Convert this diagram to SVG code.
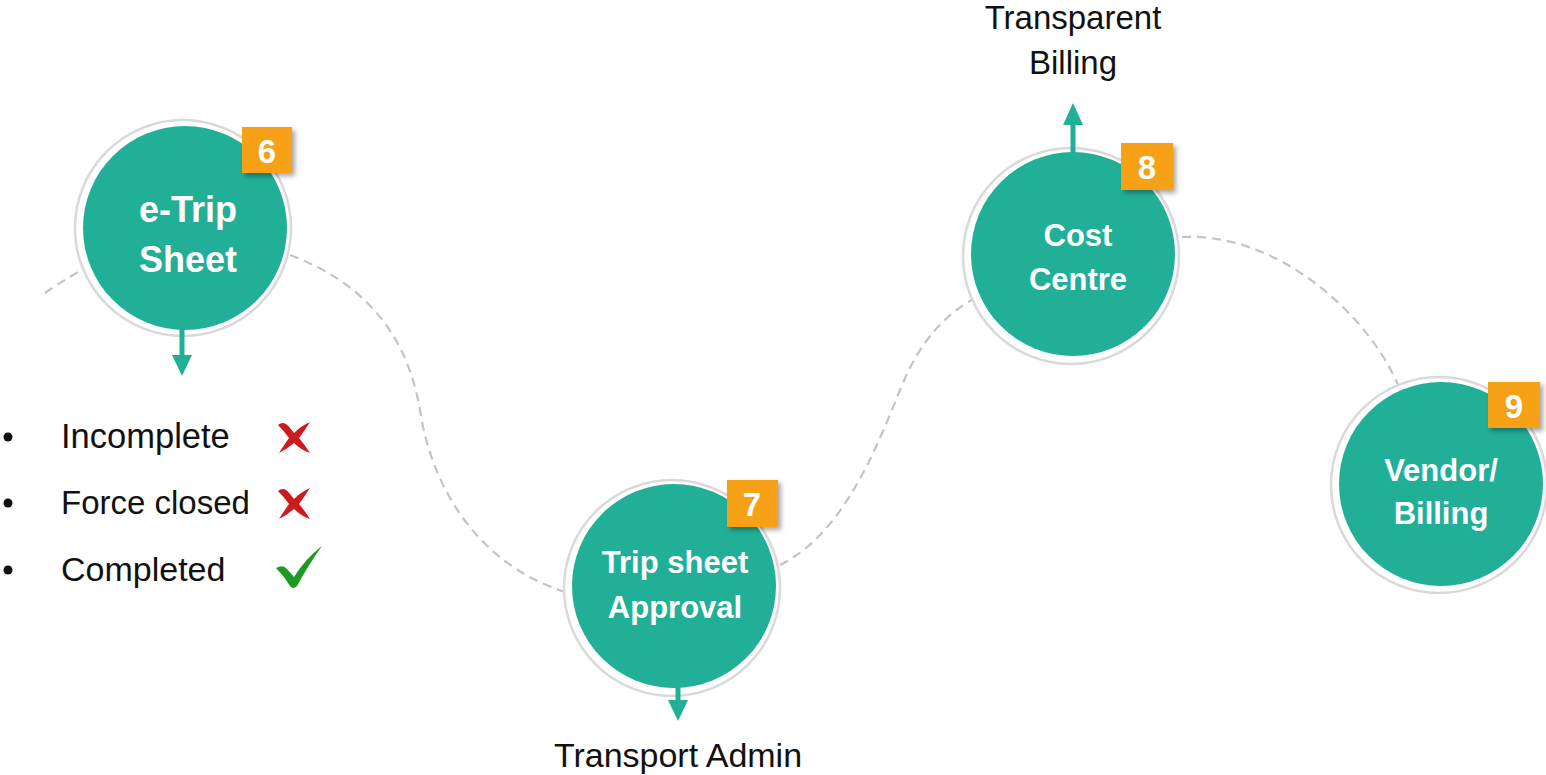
<svg xmlns="http://www.w3.org/2000/svg" width="1546" height="775" viewBox="0 0 1546 775">
<defs>
<style>
.dash{fill:none;stroke:#c4c4c4;stroke-width:2.2;stroke-dasharray:9 6}
.ring{fill:#fff;stroke:#d9d9d9;stroke-width:2.5}
.core{fill:#22af97}
.badge{fill:#f7a118}
.ct{font-family:"Liberation Sans",Arial,sans-serif;font-weight:bold;font-size:31px;fill:#fff;text-anchor:middle}
.bt{font-family:"Liberation Sans",Arial,sans-serif;font-weight:bold;font-size:33px;fill:#fff;text-anchor:middle}
.lt{font-family:"Liberation Sans",Arial,sans-serif;font-size:33px;fill:#111}
.arr{stroke:#22af97;stroke-width:5;fill:none}
.ah{fill:#22af97}
</style>
<filter id="sh" x="-20%" y="-20%" width="150%" height="150%">
<feDropShadow dx="3" dy="3" stdDeviation="2.5" flood-color="#000" flood-opacity="0.35"/>
</filter>
</defs>
<rect width="1546" height="775" fill="#fff"/>
<g id="paths">
<path class="dash" d="M45,293 Q62,281 82,270"/>
<path class="dash" d="M290,255 C370,285 408,340 420,410 C432,490 480,565 565,592"/>
<path class="dash" d="M780,565 C840,535 872,460 900,390 C920,340 945,315 975,298"/>
<path class="dash" d="M1182,237 C1280,232 1370,318 1398,385"/>
</g>
<g id="node6">
<circle class="ring" cx="183" cy="228" r="108"/>
<circle class="core" cx="185" cy="228" r="102"/>
<text class="ct" x="188" y="222" style="font-size:36px">e-Trip</text>
<text class="ct" x="188" y="272" style="font-size:36px">Sheet</text>
<rect class="badge" x="242" y="127" width="50" height="46" filter="url(#sh)"/>
<text class="bt" x="267" y="163">6</text>
</g>
<g id="node7">
<circle class="ring" cx="672" cy="588" r="108"/>
<circle class="core" cx="674" cy="586" r="102"/>
<text class="ct" x="675" y="573">Trip sheet</text>
<text class="ct" x="675" y="618">Approval</text>
<rect class="badge" x="727" y="480" width="51" height="47" filter="url(#sh)"/>
<text class="bt" x="752" y="516">7</text>
</g>
<g id="node8">
<circle class="ring" cx="1071" cy="256" r="108"/>
<circle class="core" cx="1073" cy="254" r="102"/>
<text class="ct" x="1078" y="246">Cost</text>
<text class="ct" x="1078" y="290">Centre</text>
<rect class="badge" x="1121" y="143" width="52" height="47" filter="url(#sh)"/>
<text class="bt" x="1147" y="179">8</text>
</g>
<g id="node9">
<circle class="ring" cx="1439" cy="485" r="108"/>
<circle class="core" cx="1441" cy="484" r="102"/>
<text class="ct" x="1441" y="481">Vendor/</text>
<text class="ct" x="1441" y="524">Billing</text>
<rect class="badge" x="1488" y="382" width="52" height="46" filter="url(#sh)"/>
<text class="bt" x="1514" y="418">9</text>
</g>
<g id="connectors">
<line class="arr" x1="182" y1="326" x2="182" y2="358"/>
<polygon class="ah" points="172,355 192,355 182,376"/>
<line class="arr" x1="678" y1="684" x2="678" y2="703"/>
<polygon class="ah" points="668,700 688,700 678,721"/>
<line class="arr" x1="1073" y1="155" x2="1073" y2="122"/>
<polygon class="ah" points="1063,125 1083,125 1073,103"/>
</g>
<g id="labels">
<text class="lt" x="1073" y="29" text-anchor="middle">Transparent</text>
<text class="lt" x="1073" y="74" text-anchor="middle">Billing</text>
<text class="lt" x="678" y="767" text-anchor="middle" style="font-size:34px">Transport Admin</text>
</g>
<g id="status">
<circle cx="8" cy="437" r="4.5" fill="#111"/>
<circle cx="8" cy="503" r="4.5" fill="#111"/>
<circle cx="8" cy="570" r="4.5" fill="#111"/>
<text class="lt" x="61" y="448" style="font-size:34.5px">Incomplete</text>
<text class="lt" x="61" y="514" style="font-size:33px">Force closed</text>
<text class="lt" x="61" y="581" style="font-size:34px">Completed</text>
<g fill="#cc1a1f">
<path d="M278,425 Q284,420 290,428 L294,433 Q301,426 310,422 Q305,430 299,438 Q305,445 310,453 Q301,450 294,443 Q287,449 279,453 Q284,445 289,438 Q284,431 278,425 Z"/>
<path d="M278,491 Q284,486 290,494 L294,499 Q301,492 310,488 Q305,496 299,504 Q305,511 310,519 Q301,516 294,509 Q287,515 279,519 Q284,511 289,504 Q284,497 278,491 Z"/>
</g>
<path fill="#1e9a22" d="M276,568 Q283,564 287,569 L294,577 Q305,559 322,546 Q309,564 297,586 Q293,590 290,586 Q284,576 276,568 Z"/>
</g>
</svg>
